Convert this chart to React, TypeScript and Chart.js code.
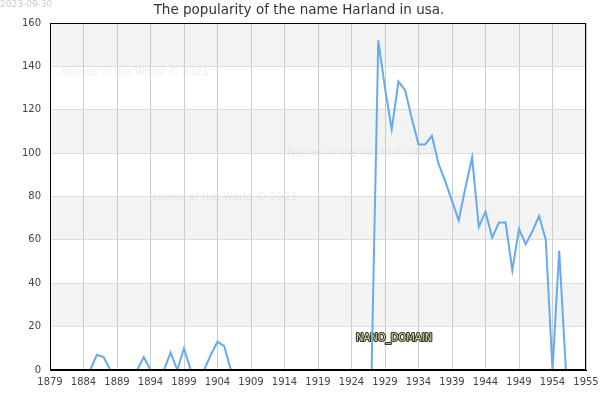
import React, { useEffect, useRef } from 'react';
import { Chart, registerables } from 'chart.js';

Chart.register(...registerables);

const years = [
  1883, 1884, 1885, 1886, 1887, 1888, 1889, 1890, 1891, 1892,
  1893, 1894, 1895, 1896, 1897, 1898, 1899, 1900, 1901, 1902,
  1903, 1904, 1905, 1906, 1907, 1908, 1909, 1910, 1911, 1912,
  1913, 1914, 1915, 1916, 1917, 1918, 1919, 1920, 1921, 1922,
  1923, 1924, 1925, 1926, 1927, 1928, 1929, 1930, 1931, 1932,
  1933, 1934, 1935, 1936, 1937, 1938, 1939, 1940, 1941, 1942,
  1943, 1944, 1945, 1946, 1947, 1948, 1949, 1950, 1951, 1952,
  1953, 1954, 1955, 1956, 1957, 1958,
];

const counts = [
  0, 0, 0, 7, 6, 0, 0, 0, 0, 0,
  6, 0, 0, 0, 8, 0, 10, 0, 0, 0,
  7, 13, 11, 0, 0, 0, 0, 0, 0, 0,
  0, 0, 0, 0, 0, 0, 0, 0, 0, 0,
  0, 0, 0, 0, 0, 152, 130, 111, 133, 129,
  116, 104, 104, 108, 95, 87, 78, 69, 84, 98,
  66, 73, 61, 68, 68, 46, 65, 58, 64, 71,
  60, 0, 55, 0, 0, 0,
];

const xTickValues = [
  1879, 1884, 1889, 1894, 1899, 1904, 1909, 1914, 1919, 1924,
  1929, 1934, 1939, 1944, 1949, 1954, 1959,
];
const xTickLabels = [
  '1879', '1884', '1889', '1894', '1899', '1904', '1909', '1914', '1919', '1924',
  '1929', '1934', '1939', '1944', '1949', '1954', '1955',
];
const yTickValues = [0, 20, 40, 60, 80, 100, 120, 140, 160];
const shadedBands = [
  [20, 40],
  [60, 80],
  [100, 120],
  [140, 160],
];

const titleText = 'The popularity of the name Harland in usa.';
const dateText = '2023-09-30';
const watermarkText = 'Names of the World © 2023';
const domainText = 'NANO_DOMAIN';

const FONT = '"DejaVu Sans", sans-serif';

const decorPlugin = {
  id: 'decor',
  beforeDraw(chart: any) {
    const { ctx, chartArea, scales } = chart;
    ctx.save();
    ctx.fillStyle = '#ffffff';
    ctx.fillRect(0, 0, chart.width, chart.height);
    ctx.fillStyle = '#f3f3f3';
    for (const [lo, hi] of shadedBands) {
      const yTop = scales.y.getPixelForValue(hi);
      const yBot = scales.y.getPixelForValue(lo);
      ctx.fillRect(chartArea.left, yTop, chartArea.right - chartArea.left, yBot - yTop);
    }
    ctx.restore();
  },
  beforeDatasetsDraw(chart: any) {
    const { ctx } = chart;
    ctx.save();
    ctx.font = `10.5px ${FONT}`;
    ctx.fillStyle = 'rgba(200, 200, 240, 0.35)';
    ctx.textBaseline = 'middle';
    ctx.textAlign = 'left';
    ctx.fillText(watermarkText, 61, 72);
    ctx.fillText(watermarkText, 287, 153);
    ctx.fillText(watermarkText, 149, 197);

    ctx.font = `10px ${FONT}`;
    ctx.lineWidth = 2.2;
    ctx.strokeStyle = '#3a3a2a';
    ctx.lineJoin = 'round';
    ctx.strokeText(domainText, 356, 338);
    ctx.fillStyle = '#d6d6a0';
    ctx.fillText(domainText, 356, 338);
    ctx.restore();
  },
  afterDraw(chart: any) {
    const { ctx, chartArea } = chart;
    ctx.save();
    ctx.strokeStyle = '#000000';
    ctx.lineWidth = 1;
    ctx.strokeRect(
      Math.round(chartArea.left) + 0.5,
      Math.round(chartArea.top) + 0.5,
      Math.round(chartArea.right - chartArea.left) - 1,
      Math.round(chartArea.bottom - chartArea.top) - 1
    );
    ctx.fillStyle = '#333333';
    ctx.font = `13.5px ${FONT}`;
    ctx.textAlign = 'center';
    ctx.textBaseline = 'middle';
    ctx.fillText(titleText, 299, 10);
    ctx.fillStyle = '#cccccc';
    ctx.font = `9px ${FONT}`;
    ctx.textAlign = 'left';
    ctx.fillText(dateText, 0, 5);
    ctx.restore();
  },
};

export default function App() {
  const canvasRef = useRef<HTMLCanvasElement | null>(null);

  useEffect(() => {
    document.body.style.margin = '0';
    const canvas = canvasRef.current;
    if (!canvas) return;
    const chart = new Chart(canvas, {
      type: 'line',
      data: {
        datasets: [
          {
            data: years.map((yr, i) => ({ x: yr, y: counts[i] })),
            borderColor: '#66aaf0',
            borderWidth: 2,
            pointRadius: 0,
            pointHoverRadius: 0,
            tension: 0,
            fill: false,
          },
        ],
      },
      options: {
        responsive: false,
        animation: false,
        events: [],
        layout: { padding: { top: 23, right: 14, left: 0, bottom: 0 } },
        plugins: {
          legend: { display: false },
          title: { display: false },
          tooltip: { enabled: false },
        },
        scales: {
          x: {
            type: 'linear',
            min: 1879,
            max: 1959,
            afterBuildTicks: (scale: any) => {
              scale.ticks = xTickValues.map((v) => ({ value: v }));
            },
            afterFit: (scale: any) => {
              scale.height = 30;
              scale.paddingLeft = 0;
              scale.paddingRight = 0;
            },
            ticks: {
              autoSkip: false,
              maxRotation: 0,
              padding: 6,
              color: '#444444',
              font: { family: FONT, size: 10 },
              callback: (value: any) => {
                const idx = xTickValues.indexOf(Number(value));
                return idx >= 0 ? xTickLabels[idx] : '';
              },
            },
            grid: { color: '#cccccc', lineWidth: 1, drawTicks: false },
            border: { display: true, color: '#000000' },
          },
          y: {
            min: 0,
            max: 160,
            afterBuildTicks: (scale: any) => {
              scale.ticks = yTickValues.map((v) => ({ value: v }));
            },
            afterFit: (scale: any) => {
              scale.width = 50;
              scale.paddingTop = 0;
              scale.paddingBottom = 0;
            },
            ticks: {
              padding: 9,
              color: '#444444',
              font: { family: FONT, size: 10 },
            },
            grid: { color: '#dddddd', lineWidth: 1, drawTicks: false },
            border: { display: true, color: '#000000' },
          },
        },
      },
      plugins: [decorPlugin],
    });
    return () => chart.destroy();
  }, []);

  return (
    <div style={{ width: 600, height: 400 }}>
      <canvas ref={canvasRef} width={600} height={400} style={{ display: 'block' }} />
    </div>
  );
}
